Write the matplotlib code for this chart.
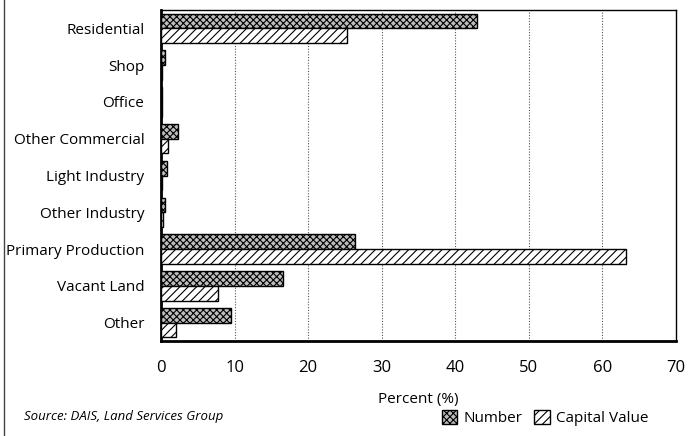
import numpy as np
import matplotlib.pyplot as plt
from matplotlib.patches import Patch
from matplotlib.lines import Line2D

categories = ["Residential", "Shop", "Office", "Other Commercial", "Light Industry",
              "Other Industry", "Primary Production", "Vacant Land", "Other"]
number_pct = [43.0, 0.6, 0.1, 2.3, 0.8, 0.6, 26.4, 16.6, 9.5]
capital_pct = [25.3, 0.1, 0.1, 1.0, 0.2, 0.3, 63.2, 7.8, 2.0]
xticks = [0, 10, 20, 30, 40, 50, 60, 70]

plt.rcParams['font.family'] = ['Open Sans', 'DejaVu Sans']
plt.rcParams['hatch.linewidth'] = 0.8

fig = plt.figure(figsize=(6.92, 4.36), dpi=100)
ax = fig.add_axes([161 / 692, 1 - 341 / 436, 515 / 692, 331 / 436])

y = np.arange(len(categories))
h = 0.4
ax.barh(y - h / 2, number_pct, height=h, facecolor='#bdbdbd', edgecolor='black',
        hatch='xxxxx', linewidth=1.0, zorder=3)
ax.barh(y + h / 2, capital_pct, height=h, facecolor='white', edgecolor='black',
        hatch='////', linewidth=1.0, zorder=3)

ax.set_ylim(len(categories) - 0.5, -0.5)
ax.set_xlim(0, 70)
ax.set_yticks(y)
ax.set_yticklabels(categories, fontsize=11)
ax.set_xticks(xticks)
ax.set_xticklabels([str(t) for t in xticks], fontsize=12)
ax.tick_params(axis='both', length=0)
ax.tick_params(axis='x', pad=14)
ax.tick_params(axis='y', pad=12)

for t in xticks[1:-1]:
    ax.axvline(t, color='#555555', linestyle=(0, (1, 1.5)), linewidth=0.8, zorder=1)

for s in ax.spines.values():
    s.set_linewidth(1.0)
ax.spines['left'].set_linewidth(2.0)
ax.spines['bottom'].set_linewidth(2.0)

fig.text(418 / 692, 1 - 399 / 436, "Percent (%)", fontsize=11, ha='center', va='center')
fig.text(24 / 692, 1 - 416 / 436, "Source: DAIS, Land Services Group", fontsize=9.5,
         style='italic', ha='left', va='center')

handles = [Patch(facecolor='#bdbdbd', edgecolor='black', hatch='xxxxx'),
           Patch(facecolor='white', edgecolor='black', hatch='////')]
fig.legend(handles, ["Number", "Capital Value"], loc='center left',
           bbox_to_anchor=(434 / 692, 1 - 418 / 436), ncol=2, frameon=False,
           fontsize=11, handlelength=1.0, handleheight=1.0, handletextpad=0.4,
           columnspacing=0.8, borderpad=0)

fig.add_artist(Line2D([4 / 692, 4 / 692], [0, 1], color='#444444', linewidth=1.0))

fig.savefig("out.png", dpi=100)
